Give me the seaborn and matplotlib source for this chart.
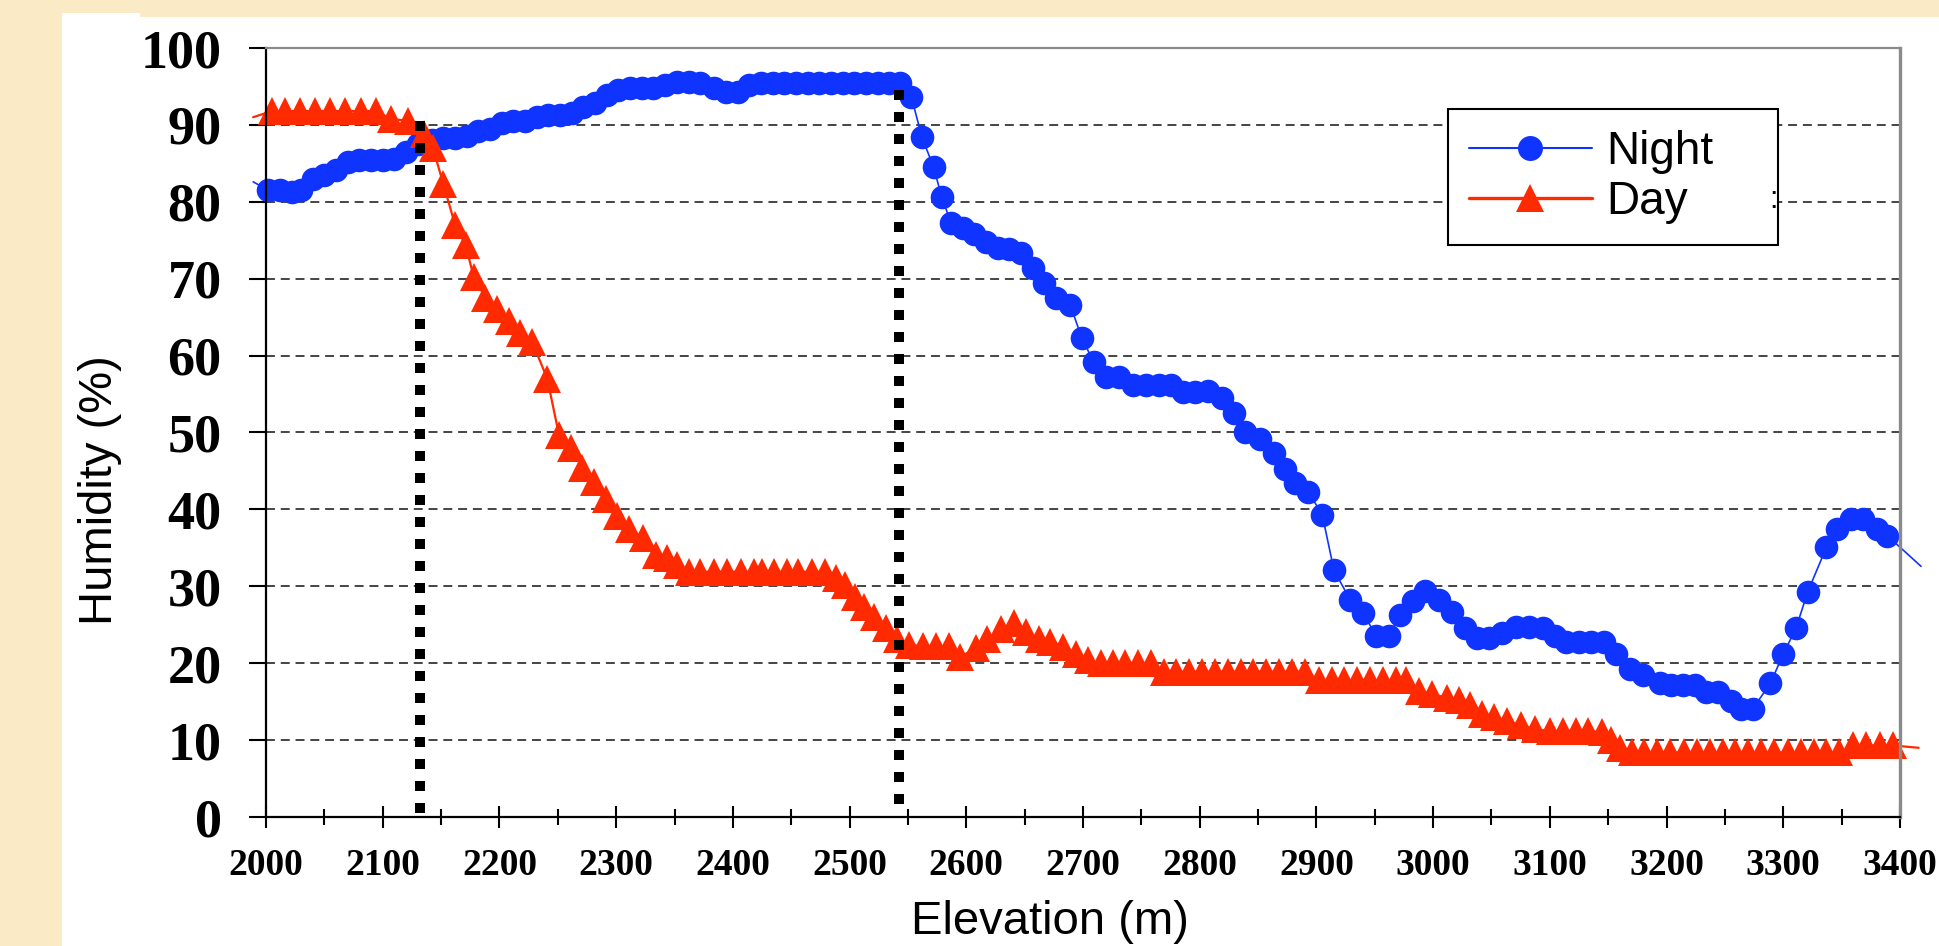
import matplotlib
matplotlib.use("Agg")
import numpy as np
import pandas as pd
import seaborn as sns
import matplotlib.pyplot as plt
from matplotlib.lines import Line2D
from matplotlib.patches import Rectangle

# ---------------- data ----------------
series_names = ["Night", "Day"]

night_elev = [1989, 2002, 2012, 2022, 2030, 2040, 2050, 2060, 2070, 2080,
              2090, 2100, 2110, 2120, 2130, 2142, 2152, 2162, 2172, 2182,
              2192, 2202, 2212, 2222, 2232, 2242, 2252, 2262, 2272, 2282,
              2292, 2302, 2312, 2322, 2332, 2342, 2352, 2362, 2372, 2384,
              2394, 2404, 2414, 2424, 2434, 2444, 2454, 2464, 2474, 2484,
              2494, 2504, 2514, 2524, 2534, 2543, 2553, 2562, 2572, 2579,
              2587, 2597, 2607, 2617, 2627, 2637, 2647, 2657, 2667, 2677,
              2689, 2699, 2709, 2720, 2731, 2743, 2754, 2765, 2775, 2786,
              2796, 2807, 2819, 2829, 2839, 2852, 2864, 2873, 2882, 2893,
              2905, 2915, 2929, 2940, 2951, 2962, 2972, 2983, 2993, 3005,
              3016, 3027, 3038, 3048, 3059, 3071, 3082, 3094, 3104, 3114,
              3125, 3135, 3146, 3157, 3169, 3180, 3194, 3204, 3214, 3224,
              3234, 3244, 3255, 3264, 3274, 3289, 3300, 3311, 3321, 3337,
              3346, 3358, 3368, 3380, 3389, 3418]
night_hum = [82.6, 81.5, 81.5, 81.3, 81.5, 83.0, 83.5, 84.2, 85.2, 85.5,
             85.5, 85.5, 85.6, 86.5, 87.5, 88.0, 88.3, 88.3, 88.5, 89.2,
             89.5, 90.3, 90.5, 90.5, 91.0, 91.3, 91.3, 91.5, 92.3, 92.8,
             93.9, 94.6, 94.8, 94.8, 94.8, 95.2, 95.6, 95.6, 95.5, 94.8,
             94.3, 94.3, 95.2, 95.4, 95.4, 95.4, 95.4, 95.4, 95.4, 95.4,
             95.4, 95.4, 95.4, 95.4, 95.4, 95.4, 93.6, 88.4, 84.5, 80.6,
             77.2, 76.6, 75.8, 74.8, 74.0, 73.8, 73.3, 71.4, 69.4, 67.5,
             66.6, 62.3, 59.2, 57.2, 57.2, 56.2, 56.2, 56.2, 56.2, 55.3,
             55.3, 55.4, 54.5, 52.5, 50.1, 49.2, 47.3, 45.2, 43.4, 42.3,
             39.3, 32.1, 28.2, 26.5, 23.6, 23.6, 26.3, 28.1, 29.4, 28.2,
             26.6, 24.6, 23.3, 23.3, 23.9, 24.7, 24.7, 24.6, 23.5, 22.8,
             22.8, 22.8, 22.8, 21.2, 19.3, 18.5, 17.4, 17.2, 17.2, 17.2,
             16.3, 16.2, 15.1, 14.1, 14.1, 17.4, 21.2, 24.6, 29.3, 35.1,
             37.5, 38.7, 38.7, 37.4, 36.6, 32.6]

day_elev = [1989, 2005, 2016, 2029, 2042, 2055, 2068, 2081, 2094, 2107,
            2122, 2135, 2143, 2152, 2162, 2171, 2178, 2188, 2198, 2208,
            2218, 2228, 2241, 2251, 2261, 2271, 2281, 2291, 2301, 2311,
            2323, 2334, 2344, 2352, 2362, 2372, 2384, 2395, 2407, 2418,
            2425, 2435, 2446, 2456, 2468, 2479, 2488, 2496, 2505, 2512,
            2521, 2531, 2541, 2551, 2563, 2574, 2585, 2595, 2608, 2618,
            2630, 2641, 2651, 2662, 2672, 2683, 2694, 2704, 2715, 2726,
            2736, 2747, 2758, 2769, 2780, 2791, 2802, 2813, 2824, 2835,
            2846, 2857, 2868, 2879, 2890, 2902, 2913, 2924, 2935, 2946,
            2957, 2968, 2977, 2988, 2999, 3012, 3022, 3032, 3042, 3052,
            3063, 3075, 3087, 3100, 3111, 3122, 3133, 3145, 3152, 3160,
            3170, 3181, 3192, 3203, 3215, 3226, 3237, 3248, 3259, 3270,
            3281, 3292, 3304, 3315, 3326, 3337, 3348, 3360, 3371, 3383,
            3394, 3416]
day_hum = [91.0, 91.8, 91.8, 91.8, 91.8, 91.8, 91.8, 91.8, 91.8, 90.8,
           90.5, 88.8, 87.0, 82.3, 77.0, 74.4, 70.2, 67.5, 66.0, 64.5,
           63.0, 61.8, 57.0, 49.7, 48.0, 45.4, 43.6, 41.4, 39.2, 37.4,
           36.3, 34.1, 33.7, 32.8, 31.9, 31.9, 31.9, 31.9, 31.9, 31.9,
           31.9, 31.9, 31.9, 31.9, 31.9, 31.9, 31.1, 30.2, 28.6, 27.3,
           26.0, 24.6, 23.2, 22.4, 22.2, 22.2, 22.2, 20.8, 22.0, 23.2,
           24.4, 25.2, 24.0, 23.2, 22.8, 22.1, 21.2, 20.4, 20.0, 20.0,
           20.0, 20.0, 20.0, 18.9, 18.9, 18.9, 18.9, 18.9, 18.9, 18.9,
           18.9, 18.9, 18.9, 18.9, 18.9, 17.8, 17.8, 17.8, 17.8, 17.8,
           17.8, 17.8, 17.8, 16.4, 16.0, 15.5, 15.2, 14.5, 13.4, 13.0,
           12.5, 12.0, 11.4, 11.2, 11.2, 11.2, 11.2, 11.0, 10.0, 9.0,
           8.4, 8.4, 8.4, 8.4, 8.4, 8.4, 8.4, 8.4, 8.4, 8.4,
           8.4, 8.4, 8.4, 8.4, 8.4, 8.4, 8.4, 9.3, 9.3, 9.3,
           9.3, 9.0]

# zone boundaries (dotted verticals): elevation and the humidity they reach
boundary_elev = [2132, 2542]
boundary_top = [90.5, 94.6]

x_ticks = [2000, 2100, 2200, 2300, 2400, 2500, 2600, 2700, 2800, 2900,
           3000, 3100, 3200, 3300, 3400]
x_minor = [2050, 2150, 2250, 2350, 2450, 2550, 2650, 2750, 2850, 2950,
           3050, 3150, 3250, 3350]
y_ticks = [0, 10, 20, 30, 40, 50, 60, 70, 80, 90, 100]

assert len(night_elev) == len(night_hum)
assert len(day_elev) == len(day_hum)

# ---------------- style ----------------
BLUE = "#1034FF"
RED = "#FF2A00"
BEIGE = "#FAEBC6"
SERIF = ["Liberation Serif", "DejaVu Serif"]
SANS = ["Liberation Sans", "DejaVu Sans"]

sns.set_style("ticks")
plt.rcParams["font.family"] = SANS
plt.rcParams["text.color"] = "black"
plt.rcParams["axes.labelcolor"] = "black"
plt.rcParams["xtick.color"] = "black"
plt.rcParams["ytick.color"] = "black"

W, H = 1940, 946
fig = plt.figure(figsize=(W / 100, H / 100), dpi=100)
fig.patch.set_facecolor(BEIGE)
fig.add_artist(Rectangle((62 / W, 0), 1 - 62 / W, 1 - 17 / H,
                         transform=fig.transFigure, facecolor="white",
                         edgecolor="none", zorder=-10))
fig.add_artist(Rectangle((62 / W, 1 - 17 / H), (140 - 62) / W, 4 / H,
                         transform=fig.transFigure, facecolor="white",
                         edgecolor="none", zorder=-10))

ax = fig.add_axes([266 / W, 129 / H, (1900 - 266) / W, (817 - 48) / H])
ax.set_facecolor("white")
ax.set_xlim(x_ticks[0], x_ticks[-1])
ax.set_ylim(y_ticks[0], y_ticks[-1])

# horizontal dashed grid (not at 0 / 100)
for yv in y_ticks[1:-1]:
    ax.axhline(yv, color="#444444", lw=1.4, ls=(0, (4.6, 3.0)), zorder=1)

night = pd.DataFrame({"elev": night_elev, "hum": night_hum})
day = pd.DataFrame({"elev": day_elev, "hum": day_hum})

lo, hi = x_ticks[0], x_ticks[-1]
night_mask = [bool(lo <= e <= hi) for e in night_elev]
day_mask = [bool(lo <= e <= hi) for e in day_elev]

sns.lineplot(data=night, x="elev", y="hum", ax=ax, color=BLUE, lw=1.2,
             marker="o", markersize=17, markeredgewidth=0,
             markevery=night_mask, sort=False, estimator=None,
             clip_on=False, zorder=3)
sns.lineplot(data=day, x="elev", y="hum", ax=ax, color=RED, lw=1.6,
             marker="^", markersize=20, markeredgewidth=0,
             markevery=day_mask, sort=False, estimator=None,
             clip_on=False, zorder=4)

# dotted boundary lines
for be, bt in zip(boundary_elev, boundary_top):
    ax.plot([be, be], [bt, 0], color="black", lw=7.2, ls=(0, (1.0, 1.2)),
            solid_capstyle="butt", dash_capstyle="butt", zorder=6,
            clip_on=False)

# axes styling
ax.set_xticks(x_ticks)
ax.set_xticks(x_minor, minor=True)
ax.set_yticks(y_ticks)
ax.set_xticklabels([str(t) for t in x_ticks])
ax.set_yticklabels([str(t) for t in y_ticks])
ax.tick_params(axis="x", which="major", direction="inout", length=16,
               width=1.5, pad=14, labelsize=27, color="black",
               labelcolor="black")
ax.tick_params(axis="x", which="minor", direction="inout", length=11,
               width=1.5, color="black")
ax.tick_params(axis="y", which="major", direction="out", length=12,
               width=1.5, pad=20, labelsize=39, color="black",
               labelcolor="black")
for lab in ax.get_xticklabels() + ax.get_yticklabels():
    lab.set_fontfamily(SERIF)
    lab.set_fontweight("bold")
    lab.set_color("black")

for side in ["left", "bottom"]:
    ax.spines[side].set_color("black")
    ax.spines[side].set_linewidth(1.6)
ax.spines["top"].set_color("#8a8a8a")
ax.spines["top"].set_linewidth(1.6)
ax.spines["right"].set_color("#8a8a8a")
ax.spines["right"].set_linewidth(2.4)
for s in ax.spines.values():
    s.set_zorder(7)

ax.set_xlabel("")
ax.set_ylabel("")
fig.text(100 / W, 1 - 490 / H, "Humidity (%)", rotation=90, ha="center",
         va="center", fontsize=34, family=SANS, color="black")
fig.text(1050 / W, 1 - 922 / H, "Elevation (m)", ha="center", va="center",
         fontsize=34, family=SANS, color="black")

# legend
handles = [
    Line2D([], [], color=BLUE, lw=1.5, marker="o", markersize=18,
           markeredgewidth=0),
    Line2D([], [], color=RED, lw=2.4, marker="^", markersize=20,
           markeredgewidth=0),
]
leg = ax.legend(handles, series_names, loc="upper left",
                bbox_to_anchor=(1448 / W, 1 - 240 / H, 330 / W, 131 / H),
                bbox_transform=fig.transFigure, mode="expand",
                frameon=True, fancybox=False, framealpha=1,
                edgecolor="black", borderpad=0.45, labelspacing=0.15,
                handlelength=2.7, handletextpad=0.3, borderaxespad=0,
                prop={"family": SANS, "size": 33})
leg.get_frame().set_linewidth(1.5)
for t in leg.get_texts():
    t.set_color("black")
leg.set_zorder(10)
fig.text(1773 / W, 1 - 200 / H, ":", ha="center", va="center",
         fontsize=22, family=SANS, zorder=11, color="black")

fig.savefig("out.png", dpi=100, facecolor=fig.get_facecolor())
